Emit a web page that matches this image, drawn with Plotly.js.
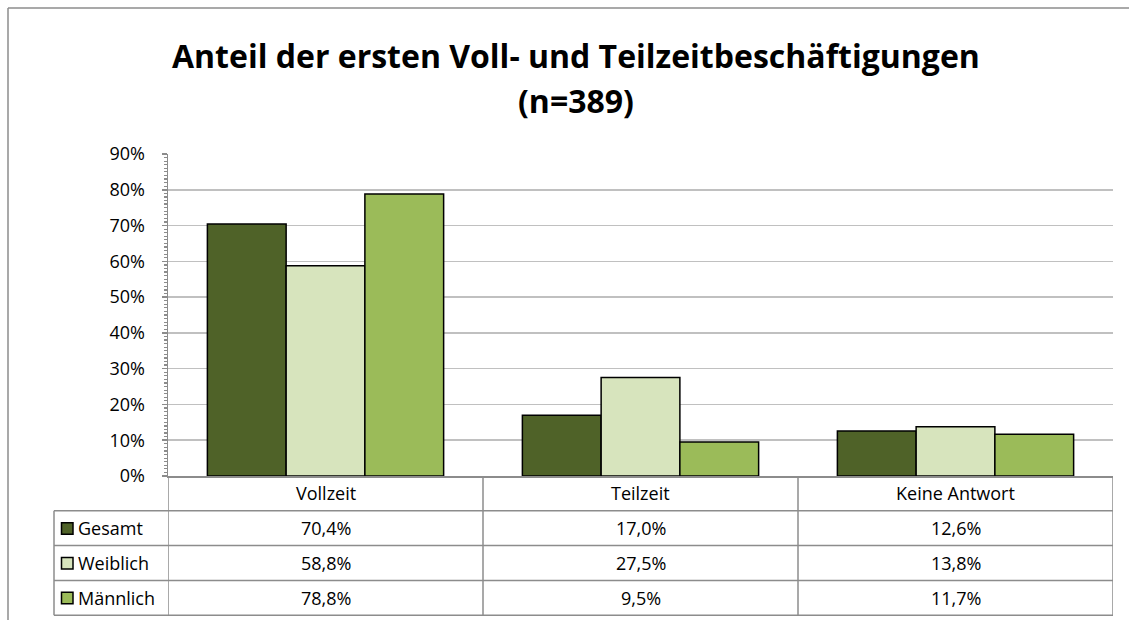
<!DOCTYPE html>
<html><head><meta charset="utf-8">
<script src="https://cdn.plot.ly/plotly-3.0.1.min.js"></script>
<style>html,body{margin:0;padding:0;background:#fff}#chart{width:1129px;height:620px}</style>
</head><body><div id="chart"></div>
<script>
// ---- data ----
const categories = ['Vollzeit', 'Teilzeit', 'Keine Antwort'];
const seriesNames = ['Gesamt', 'Weiblich', 'Männlich'];
const gesamt = [70.4, 17.0, 12.6];
const weiblich = [58.8, 27.5, 13.8];
const maennlich = [78.8, 9.5, 11.7];
const yTickValues = [0, 10, 20, 30, 40, 50, 60, 70, 80, 90];
const yTickLabels = ['0%', '10%', '20%', '30%', '40%', '50%', '60%', '70%', '80%', '90%'];
const titleLines = ['Anteil der ersten Voll- und Teilzeitbeschäftigungen', '(n=389)'];

// ---- styles ----
const seriesValues = [gesamt, weiblich, maennlich];
const colors = ['#4F6228', '#D7E4BD', '#9BBB59'];
const FONT = '"Open Sans", Lato, sans-serif';
const FS = 18;
const W = 1129, H = 620, L = 168, R = 16, T = 154, B = 144;
const plotW = W - L - R, plotH = H - T - B;
const px = p => (p - L) / plotW;          // pixel x -> paper
const py = p => (H - B - p) / plotH;      // pixel y -> paper
const gridGrey = '#C0C0C0', lineGrey = '#8C8C8C';

const traces = seriesValues.map((vals, i) => ({
  type: 'bar', name: seriesNames[i], x: categories.map((c, k) => k), y: vals,
  marker: {color: colors[i], line: {color: '#000', width: 1.5}},
  hoverinfo: 'skip'
}));

// minor tick positions (every 1 %)
const minorVals = [];
for (let v = yTickValues[0]; v <= yTickValues[yTickValues.length - 1]; v += 1) minorVals.push(v);

// table geometry
const rowTops = [476, 510.8, 545.6, 580.4, 615.2];
const labelLeft = 54;
const shapes = [];
const annotations = [];
for (let r = 1; r < rowTops.length; r++) {
  shapes.push({type: 'line', xref: 'paper', yref: 'paper', x0: px(labelLeft), x1: 1, y0: py(rowTops[r]), y1: py(rowTops[r]), line: {color: lineGrey, width: 1.5}});
}
for (let k = 0; k <= categories.length; k++) {
  shapes.push({type: 'line', xref: 'x', yref: 'paper', x0: k - 0.5, x1: k - 0.5, y0: py(rowTops[0]), y1: py(rowTops[4]), line: {color: lineGrey, width: 1.5}});
}
shapes.push({type: 'line', xref: 'paper', yref: 'paper', x0: px(labelLeft), x1: px(labelLeft), y0: py(rowTops[1]), y1: py(rowTops[4]), line: {color: lineGrey, width: 1.5}});
categories.forEach((c, k) => {
  annotations.push({xref: 'x', yref: 'paper', x: k, y: py((rowTops[0] + rowTops[1]) / 2), text: c, showarrow: false, font: {family: FONT, size: FS, color: '#000'}, xanchor: 'center', yanchor: 'middle'});
});
seriesValues.forEach((vals, i) => {
  const yc = (rowTops[i + 1] + rowTops[i + 2]) / 2;
  shapes.push({type: 'rect', xref: 'paper', yref: 'paper', x0: px(61.5), x1: px(73), y0: py(yc - 5.5), y1: py(yc + 6), fillcolor: colors[i], line: {color: '#000', width: 1.5}});
  annotations.push({xref: 'paper', yref: 'paper', x: px(76), y: py(yc), text: seriesNames[i], showarrow: false, font: {family: FONT, size: FS, color: '#000'}, xanchor: 'left', yanchor: 'middle'});
  vals.forEach((v, k) => {
    annotations.push({xref: 'x', yref: 'paper', x: k, y: py(yc), text: v.toFixed(1).replace('.', ',') + '%', showarrow: false, font: {family: FONT, size: FS, color: '#000'}, xanchor: 'center', yanchor: 'middle'});
  });
});
// title lines
const titleY = [55, 100];
titleLines.forEach((t, i) => {
  annotations.push({xref: 'paper', yref: 'paper', x: px(576), y: py(titleY[i]), text: '<b>' + t + '</b>', showarrow: false, font: {family: FONT, size: 32, color: '#000'}, xanchor: 'center', yanchor: 'middle'});
});
// outer chart border (left and top)
shapes.push({type: 'line', xref: 'paper', yref: 'paper', x0: px(8), x1: px(8), y0: py(8), y1: py(640), line: {color: '#8C8C8C', width: 1.5}});
shapes.push({type: 'line', xref: 'paper', yref: 'paper', x0: px(8), x1: px(1140), y0: py(8), y1: py(8), line: {color: '#8C8C8C', width: 1.5}});

const layout = {
  width: W, height: H,
  margin: {l: L, r: R, t: T, b: B, pad: 0},
  paper_bgcolor: '#fff', plot_bgcolor: '#fff',
  showlegend: false,
  barmode: 'group', bargap: 0.25, bargroupgap: 0,
  font: {family: FONT, color: '#000'},
  xaxis: {range: [-0.5, 2.5], showticklabels: false, ticks: '', showgrid: false, zeroline: false,
          showline: true, linecolor: lineGrey, linewidth: 1.5, fixedrange: true},
  yaxis: {range: [0, 90], tickmode: 'array', tickvals: yTickValues, ticktext: yTickLabels,
          showgrid: true, gridcolor: gridGrey, gridwidth: 1.5,
          zeroline: false, showline: true, linecolor: lineGrey, linewidth: 1.5,
          ticks: 'outside', ticklen: 5, tickcolor: lineGrey, tickwidth: 1.5, ticklabelstandoff: 13,
          minor: {tickmode: 'array', tickvals: minorVals, ticks: 'outside', ticklen: 3, tickcolor: lineGrey, tickwidth: 1.2, showgrid: false},
          tickfont: {family: FONT, size: FS, color: '#000'}, fixedrange: true},
  shapes: shapes, annotations: annotations
};
Plotly.newPlot('chart', traces, layout, {staticPlot: true, displayModeBar: false});
</script></body></html>
